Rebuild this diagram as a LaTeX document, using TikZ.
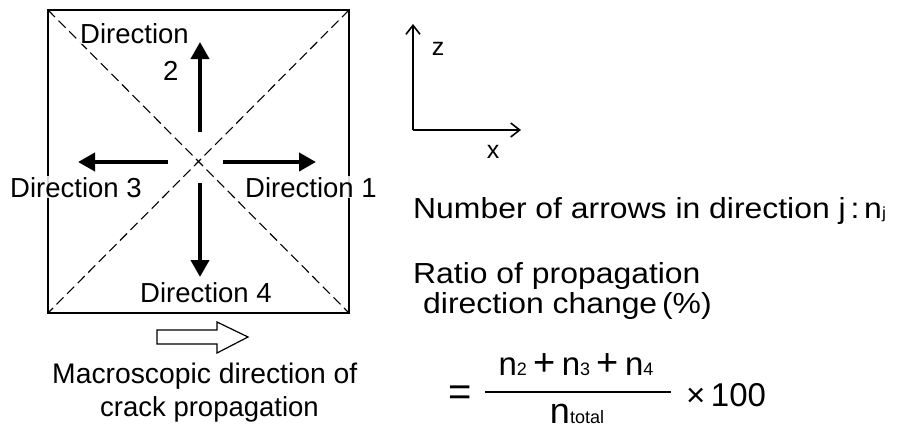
\documentclass[tikz,border=0pt]{standalone}
\usepackage{fontspec}
\setmainfont{Liberation Sans}
\newfontfamily\widefont[FakeStretch=1.1]{Liberation Sans}
\usetikzlibrary{arrows.meta}
\newcommand{\fs}[1]{\fontsize{#1}{#1}\selectfont}
\newcommand{\nsub}[1]{{\fs{33}n}{\fs{18}#1}}
\newcommand{\bp}{{\fs{38}\,+\,}}
\begin{document}
\begin{tikzpicture}[x=1pt,y=-1pt,
  lbl/.style={font=\fs{27.5}, inner sep=1pt},
  rlbl/.style={font=\widefont\fs{29}, inner sep=0pt},
  wlbl/.style={lbl, fill=white, fill opacity=0.85, text opacity=1},
  thickarrow/.style={line width=4pt, -{Triangle[length=17pt,width=18pt]}},
  axisarrow/.style={line width=1.6pt, -{Straight Barb[length=9pt,width=14pt,line width=1.6pt]}},
  diag/.style={line width=1.1pt, dash pattern=on 10pt off 5pt}]
\useasboundingbox (0,0) rectangle (901,434);
% box
\coordinate (tl) at (48,10);
\coordinate (tr) at (349,10);
\coordinate (bl) at (48,313);
\coordinate (br) at (349,313);
\draw[diag] (tl) -- (br);
\draw[diag] (tr) -- (bl);
\draw[line width=2pt] (tl) rectangle (br);
% direction arrows
\coordinate (us) at (200,132); \coordinate (ue) at (200,42);
\coordinate (ls) at (168,162); \coordinate (le) at (78,162);
\coordinate (rs) at (223,162); \coordinate (re) at (316,162);
\coordinate (ds) at (200,183); \coordinate (de) at (200,277);
\draw[thickarrow] (us) -- (ue);
\draw[thickarrow] (ls) -- (le);
\draw[thickarrow] (rs) -- (re);
\draw[thickarrow] (ds) -- (de);
% labels
\node[wlbl, anchor=base west] (d2a) at (79,43) {Direction};
\node[wlbl, anchor=base west] (d2b) at (162,80) {2};
\node[wlbl, anchor=base west] (d3) at (9,197) {Direction 3};
\node[wlbl, anchor=base west] (d1) at (244,197) {Direction 1};
\node[wlbl, anchor=base west] (d4) at (139,302) {Direction 4};
% hollow arrow
\draw[line width=1.2pt] (157,330) -- (217,330) -- (217,322) -- (248,337) -- (217,353) -- (217,344) -- (157,344) -- cycle;
\node[lbl, font=\fs{28.3}, anchor=base west] (m1) at (51,383) {Macroscopic direction of};
\node[lbl, anchor=base west] (m2) at (99,416) {crack propagation};
% axes
\coordinate (o) at (413,130);
\coordinate (zt) at (413,24);
\coordinate (xt) at (521,130);
\draw[axisarrow] (o) -- (zt);
\draw[axisarrow] (o) -- (xt);
\node[font=\fs{25}, inner sep=0pt, anchor=base] (zl) at (438,55) {z};
\node[font=\fs{25}, inner sep=0pt, anchor=base] (xl) at (493,158) {x};
% right text
\node[rlbl, anchor=base west] (num) at (413,218) {Number of arrows in direction j\,:\,n{\fs{16}j}};
\node[rlbl, anchor=base west] (r1) at (413,283) {Ratio of propagation};
\node[rlbl, anchor=base west] (r2) at (423,313) {direction change\,(\%)};
\node[inner sep=0pt, anchor=base] (eq) at (460,405) {\fs{40}=};
\node[inner sep=0pt, anchor=base] (numer) at (576,375) {\nsub{2}\bp\nsub{3}\bp\nsub{4}};
\coordinate (fl) at (485,392);
\coordinate (fr) at (671,392);
\draw[line width=1.5pt] (fl) -- (fr);
\node[inner sep=0pt, anchor=base] (den) at (577,423) {{\fs{36}n}{\fs{18}total}};
\node[inner sep=0pt, anchor=base west] (times) at (686,406) {\fs{33}×\,100};
\end{tikzpicture}
\end{document}
